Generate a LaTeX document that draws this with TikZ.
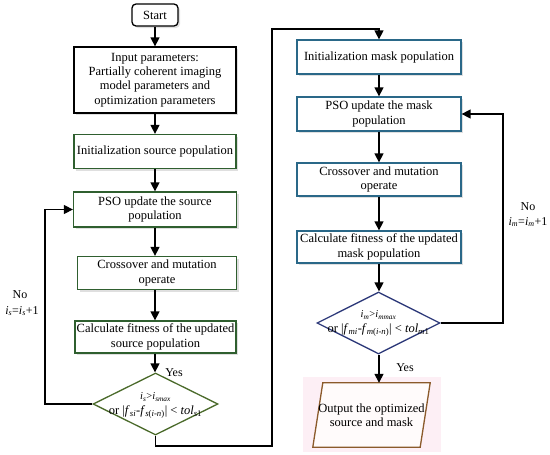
\documentclass[tikz,border=0pt]{standalone}
\usepackage{fontspec}
\setmainfont{Liberation Serif}
\usetikzlibrary{arrows.meta,shapes.geometric,shadows}
\definecolor{sgreen}{HTML}{2F5F2F}
\definecolor{sgreendia}{HTML}{4A6A2A}
\definecolor{mblue}{HTML}{2A6888}
\definecolor{mnavy}{HTML}{2E3A7A}
\definecolor{obrown}{HTML}{8B5A2B}
\definecolor{opink}{HTML}{FDEFF5}
\begin{document}
\begin{tikzpicture}[x=1pt,y=-1pt,
  every node/.style={font=\fontsize{12.5}{14.4}\selectfont, align=center, inner sep=0pt},
  basebox/.style={draw, line width=1.3pt, fill=white, rectangle,
    drop shadow={opacity=0.25, shadow xshift=2pt, shadow yshift=-2pt}},
  blackbox/.style={basebox, draw=black},
  greenbox/.style={basebox, draw=sgreen},
  bluebox/.style={basebox, draw=mblue},
  dia/.style={diamond, draw, line width=1.3pt, fill=white, aspect=2},
  flow/.style={line width=1.4pt, -{Triangle[length=9pt,width=9pt]}},
  line/.style={line width=1.4pt},
  lbl/.style={font=\fontsize{12}{14}\selectfont},
  dsmall/.style={font=\fontsize{10.5}{12}\selectfont}
]
\useasboundingbox (0,0) rectangle (550,455);

% left column
\node[blackbox, rounded corners=4pt, minimum width=46pt, minimum height=22pt] (start) at (155,15) {Start};
\node[blackbox, minimum width=162pt, minimum height=66pt] (inp) at (155,80)
  {Input parameters:\\Partially coherent imaging\\model parameters and\\optimization parameters};
\node[greenbox, minimum width=162pt, minimum height=34pt] (is) at (155,151.5) {Initialization source population};
\node[greenbox, minimum width=163pt, minimum height=35pt] (ps) at (155,209.5) {PSO update the source\\population};
\node[greenbox, minimum width=159pt, minimum height=33pt] (cs) at (157,273) {Crossover and mutation\\operate};
\node[greenbox, minimum width=161pt, minimum height=32pt] (fs) at (155.5,337) {Calculate fitness of the updated\\source population};
\node[dia, draw=sgreendia, minimum width=125pt, minimum height=62pt] (ds) at (155.5,404) {};
\node[dsmall] (dst1) at (155.5,397) {\textit{i}\textsubscript{\textit{s}}>\textit{i}\textsubscript{\textit{smax}}};
\node (dst2) at (155.5,412) {or |\textit{f}\textsubscript{\textit{si}}-\textit{f}\textsubscript{\textit{s}(\textit{i}-\textit{n})}| < \textit{tol}\textsubscript{\textit{s}1}};

% right column
\node[bluebox, minimum width=164pt, minimum height=34pt] (im) at (379,57) {Initialization mask population};
\node[bluebox, minimum width=164pt, minimum height=34pt] (pm) at (379,114) {PSO update the mask\\population};
\node[bluebox, minimum width=164pt, minimum height=33pt] (cm) at (379,179.5) {Crossover and mutation\\operate};
\node[bluebox, minimum width=164pt, minimum height=32pt] (fm) at (379,247) {Calculate fitness of the updated\\mask population};
\node[dia, draw=mnavy, minimum width=123pt, minimum height=62pt] (dm) at (378.5,323) {};
\node[dsmall] (dmt1) at (378.5,315) {\textit{i}\textsubscript{\textit{m}}>\textit{i}\textsubscript{\textit{mmax}}};
\node (dmt2) at (378.5,330) {or |\textit{f}\textsubscript{\textit{mi}}-\textit{f}\textsubscript{\textit{m}(\textit{i}-\textit{n})}| < \textit{tol}\textsubscript{\textit{m}1}};

% output parallelogram
\fill[opink] (303,377) rectangle (441,452);
\node[minimum width=107pt, minimum height=64pt] (out) at (371.5,415) {};
\draw[obrown, line width=1.3pt, fill=white!94!pink]
  ([xshift=5pt]out.north west) -- ([xshift=5pt]out.north east)
  -- ([xshift=-5pt]out.south east) -- ([xshift=-5pt]out.south west) -- cycle;
\node (outt) at (out) {Output the optimized\\source and mask};

% connectors left
\draw[flow] (start) -- (inp);
\draw[flow] (inp) -- (is);
\draw[flow] (is) -- (ps);
\draw[flow] (ps.south) -- (ps.south |- cs.north);
\draw[flow] (cs.south -| ps.south) -- (fs.north -| ps.south);
\draw[flow] (fs.south -| ps.south) -- (ps.south |- ds.north);
\coordinate (lsx) at (45,404);
\draw[flow] (ds.west) -- (lsx) |- (ps.west);
\coordinate (b1) at (155.5,446);
\coordinate (b2) at (272,446);
\coordinate (b3) at (272,29);
\coordinate (b4) at (379,29);
\draw[flow] (ds.south) -- (b1) -- (b2) -- (b3) -- (b4) -- (im.north);

% connectors right
\draw[flow] (im) -- (pm);
\draw[flow] (pm) -- (cm);
\draw[flow] (cm) -- (fm);
\draw[flow] (fm.south) -- (fm.south |- dm.north);
\draw[flow] (dm.south -| fm.south) -- (fm.south |- out.north);
\coordinate (rsx) at (503,323);
\draw[flow] (dm.east) -- (rsx) |- (pm.east);

% labels
\node[lbl] (yes1) at (174,373) {Yes};
\node[lbl] (yes2) at (405,368) {Yes};
\node[lbl] (no1) at (20,295) {No};
\node[lbl] (inc1) at (22,311) {\textit{i}\textsubscript{\textit{s}}=\textit{i}\textsubscript{\textit{s}}+1};
\node[lbl] (no2) at (528,207) {No};
\node[lbl] (inc2) at (528,222) {\textit{i}\textsubscript{\textit{m}}=\textit{i}\textsubscript{\textit{m}}+1};
\end{tikzpicture}
\end{document}
